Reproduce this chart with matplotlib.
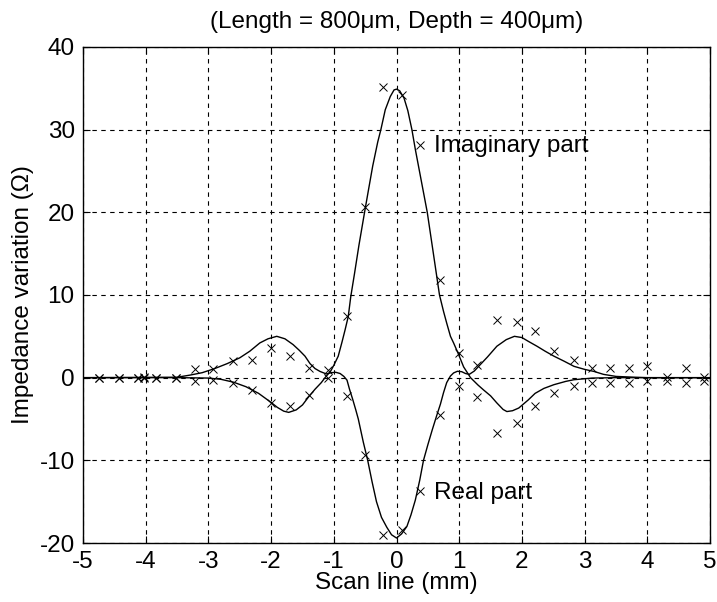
import matplotlib
matplotlib.use("Agg")
import matplotlib.pyplot as plt

plt.rcParams["axes.unicode_minus"] = False

# ---- measured points (x marks) ----
scan_pts = [-4.74, -4.43, -4.13, -4.02, -3.84, -3.52, -3.22, -2.92, -2.61, -2.31,
            -2.0, -1.70, -1.39, -1.09, -0.79, -0.50, -0.21, 0.085, 0.38, 0.70,
            0.99, 1.29, 1.60, 1.92, 2.21, 2.51, 2.83, 3.12, 3.41, 3.70,
            4.0, 4.32, 4.61, 4.90]
imag_pts = [0.0, 0.0, 0.0, -0.1, 0.0, 0.0, -0.45, -0.3, -0.64, -1.45,
            -3.06, -3.47, -2.06, -0.04, 7.4, 20.7, 35.2, 34.2, 28.2, 11.85,
            2.98, -2.3, -6.7, -5.5, -3.47, -1.85, -0.97, -0.64, -0.64, -0.64,
            -0.44, -0.44, -0.64, -0.44]
real_pts = [0.0, 0.0, 0.0, 0.1, 0.0, 0.0, 1.1, 1.0, 2.06, 2.18,
            3.6, 2.58, 1.17, 0.97, -2.26, -9.3, -19.0, -18.4, -13.7, -4.47,
            -0.95, 1.5, 7.0, 6.7, 5.6, 3.2, 2.18, 1.2, 1.17, 1.17,
            1.37, 0.1, 1.17, 0.1]

# ---- simulated curves ----
imag_x = [-5.0, -3.5, -3.0, -2.8, -2.6, -2.4, -2.2, -2.0, -1.9, -1.8, -1.72, -1.6, -1.5,
          -1.4, -1.3, -1.2, -1.14, -1.05, -1.0, -0.93, -0.87, -0.82, -0.77, -0.73, -0.67,
          -0.6, -0.51, -0.45, -0.38, -0.3, -0.25, -0.18, -0.1, -0.04, 0.0, 0.05, 0.12,
          0.18, 0.245, 0.3, 0.4, 0.49, 0.58, 0.685, 0.75, 0.8, 0.86, 0.91, 0.99, 1.07,
          1.18, 1.3, 1.39, 1.5, 1.6, 1.7, 1.76, 1.85, 1.95, 2.1, 2.21, 2.35, 2.51, 2.7,
          2.83, 3.12, 3.5, 5.0]
imag_y = [0.0, 0.0, -0.05, -0.2, -0.55, -1.1, -1.9, -3.0, -3.6, -4.05, -4.2, -3.9, -3.3,
          -2.3, -1.4, -0.6, 0.0, 0.8, 1.5, 2.6, 4.3, 5.8, 7.4, 9.8, 12.6,
          16.0, 20.0, 22.6, 25.6, 28.5, 30.0, 32.4, 34.0, 34.8, 34.9, 34.7, 33.8,
          32.3, 30.0, 27.6, 23.6, 20.0, 15.4, 10.0, 8.0, 6.6, 5.0, 4.2, 2.8, 1.3,
          0.0, -0.9, -1.5, -2.2, -3.06, -3.85, -4.1, -4.0, -3.67, -2.7, -1.9, -1.3, -0.85, -0.45,
          -0.25, -0.05, 0.0, 0.0]

real_x = [-5.0, -3.5, -3.3, -3.1, -2.9, -2.7, -2.5, -2.34, -2.18, -2.05, -1.91, -1.78,
          -1.65, -1.55, -1.46, -1.38, -1.3, -1.22, -1.12, -1.04, -0.97, -0.9, -0.84,
          -0.79, -0.75, -0.7, -0.65, -0.61, -0.53, -0.46, -0.39, -0.32, -0.24, -0.155,
          -0.08, 0.0, 0.08, 0.165, 0.23, 0.30, 0.37, 0.43, 0.5, 0.57, 0.64, 0.70, 0.75,
          0.8, 0.86, 0.91, 0.97, 1.04, 1.1, 1.16, 1.24, 1.31, 1.45, 1.6, 1.75, 1.88,
          2.0, 2.1, 2.24, 2.37, 2.51, 2.67, 2.83, 3.0, 3.15, 3.3, 3.5, 3.8, 4.0, 5.0]
real_y = [0.0, 0.05, 0.3, 0.6, 1.1, 1.7, 2.4, 3.2, 4.2, 4.7, 5.0, 4.7,
          4.0, 3.3, 2.6, 1.7, 1.1, 0.75, 0.45, 0.6, 0.65, 0.5, 0.15,
          -0.3, -1.4, -2.6, -3.9, -5.0, -7.8, -10.0, -12.6, -15.0, -16.9, -18.1,
          -19.0, -19.4, -18.9, -18.0, -16.6, -14.8, -12.4, -10.0, -8.1, -6.3, -4.6, -3.2, -1.8,
          -0.6, 0.2, 0.57, 0.77, 0.72, 0.5, 0.4, 0.8, 1.37, 2.5, 3.8, 4.6, 5.0,
          4.85, 4.4, 3.8, 3.2, 2.6, 2.0, 1.37, 1.0, 0.75, 0.4, 0.15, 0.05, 0.0, 0.0]

FONT = "Liberation Sans"
FS = 17.5

fig = plt.figure(figsize=(7.17, 6.02), dpi=100)
ax = fig.add_axes([0.1158, 0.098, 0.8745, 0.824])

ax.plot(imag_x, imag_y, color="k", linewidth=1.0)
ax.plot(real_x, real_y, color="k", linewidth=1.0)
ax.plot(scan_pts, imag_pts, linestyle="none", marker="x", color="k",
        markersize=6, markeredgewidth=0.7)
ax.plot(scan_pts, real_pts, linestyle="none", marker="x", color="k",
        markersize=6, markeredgewidth=0.7)

ax.text(0.6, 28.0, "Imaginary part", fontsize=FS, family=FONT, va="center")
ax.text(0.6, -14.0, "Real part", fontsize=FS, family=FONT, va="center")

ax.set_xlim(-5, 5)
ax.set_ylim(-20, 40)
ax.set_xticks(range(-5, 6))
ax.set_yticks(range(-20, 41, 10))
ax.grid(True, color="k", linestyle=(0, (4, 4)), linewidth=0.8)
ax.tick_params(direction="in", top=True, right=True, length=5, width=0.8,
               labelsize=FS, pad=6)
for lab in ax.get_xticklabels() + ax.get_yticklabels():
    lab.set_family(FONT)
for sp in ax.spines.values():
    sp.set_linewidth(1.0)

ax.set_title("(Length = 800\u03bcm, Depth = 400\u03bcm)", fontsize=FS, family=FONT, pad=14)
ax.set_xlabel("Scan line (mm)", fontsize=FS, family=FONT, labelpad=-1)
ax.set_ylabel("Impedance variation (\u03a9)", fontsize=FS, family=FONT, labelpad=4)

fig.savefig("out.png", dpi=100)
